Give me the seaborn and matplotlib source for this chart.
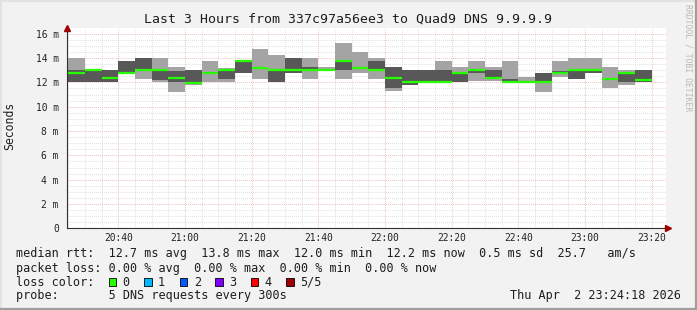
import numpy as np
import pandas as pd
import matplotlib
matplotlib.use("Agg")
import matplotlib.pyplot as plt
import seaborn as sns
from matplotlib.ticker import MultipleLocator, FixedLocator
from matplotlib.patches import Rectangle
from matplotlib.lines import Line2D

# ---------------- data ----------------
title = "Last 3 Hours from 337c97a56ee3 to Quad9 DNS 9.9.9.9"
first_bin = "20:20"      # start of first (partially visible) 5-minute bin
step_minutes = 5
# five sorted DNS round-trip times per bin, in milliseconds
ping1 = [12.00, 12.05, 12.05, 12.05, 12.75, 12.27, 12.05, 11.23, 11.80, 12.05,
         12.05, 12.77, 12.27, 12.05, 12.80, 12.27, 13.05, 12.27, 12.77, 12.27,
         11.28, 11.80, 12.00, 12.00, 12.05, 12.08, 12.08, 12.05, 12.00, 11.23,
         12.46, 12.27, 12.77, 11.50, 11.80, 12.00]
ping2 = [12.15, 12.05, 12.05, 12.05, 12.75, 13.00, 12.20, 12.00, 11.93, 12.80,
         12.28, 12.77, 13.20, 12.05, 12.80, 13.00, 13.05, 13.04, 13.20, 13.00,
         11.50, 11.80, 12.00, 12.00, 12.05, 12.77, 12.30, 12.05, 12.00, 12.00,
         12.77, 12.27, 12.77, 12.25, 12.00, 12.00]
ping3 = [12.20, 12.80, 13.02, 12.33, 12.77, 13.02, 13.02, 12.33, 11.95, 12.80,
         13.00, 13.80, 13.20, 13.05, 13.05, 13.05, 13.05, 13.80, 13.20, 13.05,
         12.35, 12.00, 12.00, 12.00, 12.80, 13.03, 12.35, 12.05, 12.00, 12.03,
         12.80, 13.03, 13.03, 12.30, 12.77, 12.22]
ping4 = [12.25, 13.00, 13.02, 13.00, 13.73, 14.00, 13.05, 12.95, 13.00, 12.80,
         13.10, 13.80, 13.20, 13.05, 14.00, 13.28, 13.05, 13.80, 13.20, 13.78,
         13.28, 13.00, 13.00, 13.00, 12.85, 13.05, 13.00, 12.27, 12.00, 12.77,
         12.95, 13.05, 13.05, 12.35, 12.80, 13.00]
ping5 = [16.10, 14.00, 13.02, 13.00, 13.73, 14.00, 14.00, 13.28, 13.00, 13.75,
         13.15, 13.80, 14.74, 14.25, 14.00, 14.00, 13.28, 15.23, 14.50, 14.00,
         13.28, 13.00, 13.00, 13.78, 13.28, 13.78, 13.28, 13.78, 12.46, 12.77,
         13.78, 14.00, 14.00, 13.28, 13.00, 13.00]
xtick_labels = ["20:40", "21:00", "21:20", "21:40", "22:00", "22:20", "22:40", "23:00", "23:20"]
ytick_values = [0, 2, 4, 6, 8, 10, 12, 14, 16]

rtt_avg, rtt_max, rtt_min, rtt_now, rtt_sd, rtt_ams = "12.7", "13.8", "12.0", "12.2", "0.5", "25.7"
loss_avg, loss_max, loss_min, loss_now = "0.00", "0.00", "0.00", "0.00"
loss_labels = ["0", "1", "2", "3", "4", "5/5"]
loss_colors = ["#26ff00", "#00b8ff", "#0059ff", "#7e00ff", "#ff0000", "#a10000"]
probe_text = "5 DNS requests every 300s"
stamp_text = "Thu Apr  2 23:24:18 2026"
watermark = "RRDTOOL / TOBI OETIKER"

# ---------------- helpers ----------------
def hm(s):
    h, m = s.split(":")
    return (int(h) - 20) * 60 + int(m)   # minutes since 20:00

n = len(ping3)
starts = hm(first_bin) + step_minutes * np.arange(n)
ends = starts + step_minutes

W, H = 697, 310
BG = "#f2f2f2"
MONO = "DejaVu Sans Mono"
TXT = "#1e1e1e"

sns.set_style("white")
plt.rcParams["font.family"] = [MONO, "DejaVu Sans"]

fig = plt.figure(figsize=(W / 100, H / 100), dpi=100, facecolor=BG)

def fx(px):
    return px / W

def fy(py):
    return 1 - py / H

L, R, T, B = 67, 666, 28.3, 228.3
ax = fig.add_axes([fx(L), fy(B), fx(R - L), (B - T) / H])
ax.set_facecolor("white")

# smoke
xe = np.append(starts, ends[-1])
def ext(a):
    a = np.asarray(a, float)
    return np.append(a, a[-1])
ax.fill_between(xe, ext(ping1), ext(ping5), step="post", color="#a4a4a4", lw=0, zorder=2)
ax.fill_between(xe, ext(ping2), ext(ping4), step="post", color="#585858", lw=0, zorder=3)

# median segments via seaborn
rows = []
for i in range(n):
    rows.append({"t": starts[i], "rtt": ping3[i], "bin": i})
    rows.append({"t": ends[i], "rtt": ping3[i], "bin": i})
med = pd.DataFrame(rows)
sns.lineplot(data=med, x="t", y="rtt", units="bin", estimator=None, color="#26ff00",
             lw=1.6, ax=ax, zorder=4, solid_capstyle="butt", legend=False)

x0, x1 = 24.6, 204.3
ax.set_xlim(x0, x1)
ax.set_ylim(0, 16.45)

# grid
xt = [hm(s) for s in xtick_labels]
ax.xaxis.set_major_locator(FixedLocator(xt))
ax.xaxis.set_minor_locator(MultipleLocator(5))
ax.yaxis.set_major_locator(FixedLocator(ytick_values))
ax.yaxis.set_minor_locator(MultipleLocator(0.5))
ax.set_xticklabels(xtick_labels)
ax.set_yticklabels(["0" if v == 0 else f"{v} m" for v in ytick_values])
ax.grid(which="minor", color="#d4d4d4", lw=0.7, linestyle=(0, (0.7, 1.4)))
ax.grid(which="major", color="#eba3a3", lw=0.7, linestyle=(0, (0.7, 1.4)))
ax.set_axisbelow(True)

for s in ["top", "right"]:
    ax.spines[s].set_visible(False)
for s in ["left", "bottom"]:
    ax.spines[s].set_color("#303030")
    ax.spines[s].set_linewidth(0.8)
    ax.spines[s].set_zorder(6)

ax.tick_params(which="major", direction="inout", length=4, width=0.7, color="#303030",
               labelsize=6.9, labelcolor="#222222", pad=1.2)
ax.tick_params(which="minor", direction="inout", length=2, width=0.5, color="#303030")
ax.tick_params(axis="y", which="major", pad=4)
ax.set_xlabel("")
ax.set_ylabel("")

# axis arrows
ax.plot([x0], [16.45], marker="^", color="#a00000", ms=4, clip_on=False, zorder=7)
ax.plot([x1 + 0.6], [0], marker=">", color="#a00000", ms=4, clip_on=False, zorder=7)

# texts
fig.text(fx(348), fy(19), title, ha="center", va="center", size=9.5, color=TXT)
fig.text(fx(10), fy(126), "Seconds", rotation=90, ha="center", va="center", size=8.3,
         color=TXT)
fig.text(fx(688), fy(4), watermark, rotation=270, ha="center", va="top", size=5.9,
         color="#b8b8b8")

ts = 8.5
cw = ts / 72 * 100 * 0.602     # monospace character width in px
lx = 16
rowy = [254, 268.3, 282.3, 296]

def put(x, y, s, **kw):
    fig.text(fx(x), fy(y), s, va="center", size=ts, color=TXT, **kw)

line1 = (f"median rtt:  {rtt_avg} ms avg  {rtt_max} ms max  {rtt_min} ms min  "
         f"{rtt_now} ms now  {rtt_sd} ms sd  {rtt_ams}   am/s")
line2 = f"packet loss: {loss_avg} % avg  {loss_max} % max  {loss_min} % min  {loss_now} % now"
put(lx, rowy[0], line1)
put(lx, rowy[1], line2)
put(lx, rowy[2], "loss color:")
pos = 13
for lab, c in zip(loss_labels, loss_colors):
    bx = lx + cw * pos + 0.3
    fig.add_artist(Rectangle((fx(bx), fy(rowy[2] + 3.9)), fx(7.6), 7.8 / H,
                             facecolor=c, edgecolor="black", lw=0.6))
    put(lx + cw * (pos + 2), rowy[2], lab)
    pos += 3 + len(lab) + 2 - 1
put(lx, rowy[3], "probe:       " + probe_text)
fig.text(fx(681), fy(rowy[3]), stamp_text, ha="right", va="center", size=ts, color=TXT)

# frame shading
fig.add_artist(Line2D([0, 1], [fy(0.5), fy(0.5)], color="#e2e2e2", lw=1.4))
fig.add_artist(Line2D([fx(0.5), fx(0.5)], [0, 1], color="#e2e2e2", lw=1.4))
fig.add_artist(Line2D([0, 1], [fy(309), fy(309)], color="#9e9e9e", lw=1.6))
fig.add_artist(Line2D([fx(696), fx(696)], [0, 1], color="#9e9e9e", lw=1.6))

fig.savefig("out.png", dpi=100, facecolor=BG)
